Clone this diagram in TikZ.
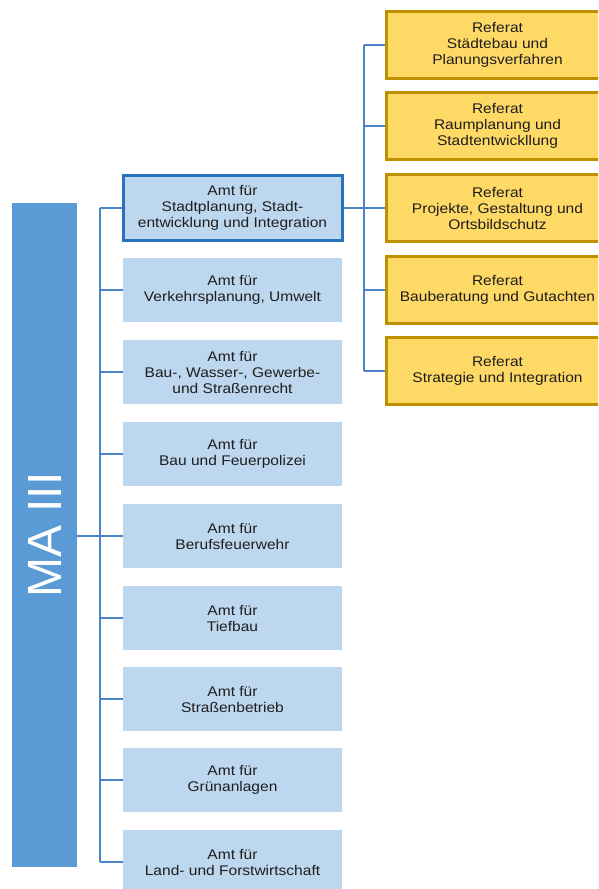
\documentclass[tikz,border=0pt]{standalone}
\usepackage{fontspec}
\setmainfont[FakeStretch=1.11]{Liberation Sans}
\newfontfamily\plainsans{Liberation Sans}
\definecolor{amtfill}{HTML}{BDD7EE}
\definecolor{barfill}{HTML}{5B9BD5}
\definecolor{linec}{HTML}{4A86C5}
\definecolor{hlborder}{HTML}{2872BC}
\definecolor{reffill}{HTML}{FFD966}
\definecolor{refborder}{HTML}{BF9000}
\definecolor{textc}{HTML}{1E1E1E}
\begin{document}
\begin{tikzpicture}[x=1pt,y=-1pt,
  amtbox/.style={fill=amtfill, minimum width=219pt, minimum height=64pt, inner sep=0pt,
    align=center, text=textc, font=\fontsize{14}{16}\selectfont},
  hlbox/.style={amtbox, draw=hlborder, line width=3pt, minimum height=65pt},
  refbox/.style={fill=reffill, draw=refborder, line width=3pt, minimum width=222pt,
    minimum height=67pt, inner sep=0pt, align=center, text=textc, font=\fontsize{14}{16}\selectfont},
  conn/.style={draw=linec, line width=1.5pt}
]
\useasboundingbox (0,0) rectangle (598,889);
\clip (0,0) rectangle (598,889);

% MA III bar
\node[fill=barfill, minimum width=65pt, minimum height=664pt, inner sep=0pt,
  text=white, font=\plainsans\fontsize{48}{48}\selectfont] (ma) at (44.5,535)
  {\rotatebox{90}{MA III}};

% Amt boxes
\node[hlbox] (a1) at (232.5,208) {Amt für\\Stadtplanung, Stadt-\\entwicklung und Integration};
\node[amtbox] (a2) at (232.5,290) {Amt für\\Verkehrsplanung, Umwelt};
\node[amtbox] (a3) at (232.5,372) {Amt für\\Bau-, Wasser-, Gewerbe-\\und Straßenrecht};
\node[amtbox] (a4) at (232.5,454) {Amt für\\Bau und Feuerpolizei};
\node[amtbox] (a5) at (232.5,536) {Amt für\\Berufsfeuerwehr};
\node[amtbox] (a6) at (232.5,618) {Amt für\\Tiefbau};
\node[amtbox] (a7) at (232.5,699) {Amt für\\Straßenbetrieb};
\node[amtbox] (a8) at (232.5,780) {Amt für\\Grünanlagen};
\node[amtbox] (a9) at (232.5,862) {Amt für\\Land- und Forstwirtschaft};

% Referat boxes
\node[refbox] (r1) at (497.5,45) {Referat\\Städtebau und\\Planungsverfahren};
\node[refbox] (r2) at (497.5,126) {Referat\\Raumplanung und\\Stadtentwickllung};
\node[refbox] (r3) at (497.5,208) {Referat\\Projekte, Gestaltung und\\Ortsbildschutz};
\node[refbox] (r4) at (497.5,290) {Referat\\Bauberatung und Gutachten};
\node[refbox] (r5) at (497.5,371) {Referat\\Strategie und Integration};

% left bracket
\coordinate (lb) at (100,536);
\draw[conn] (ma.east |- lb) -- (lb);
\draw[conn] (a1.west -| lb) -- (a9.west -| lb);
\foreach \n in {a1,a2,a3,a4,a5,a6,a7,a8,a9}
  \draw[conn] (\n.west -| lb) -- (\n.west);

% right bracket
\coordinate (rb) at (364,208);
\draw[conn] (a1.east) -- (rb);
\draw[conn] (r1.west -| rb) -- (r5.west -| rb);
\foreach \n in {r1,r2,r3,r4,r5}
  \draw[conn] (\n.west -| rb) -- (\n.west);
\end{tikzpicture}
\end{document}
